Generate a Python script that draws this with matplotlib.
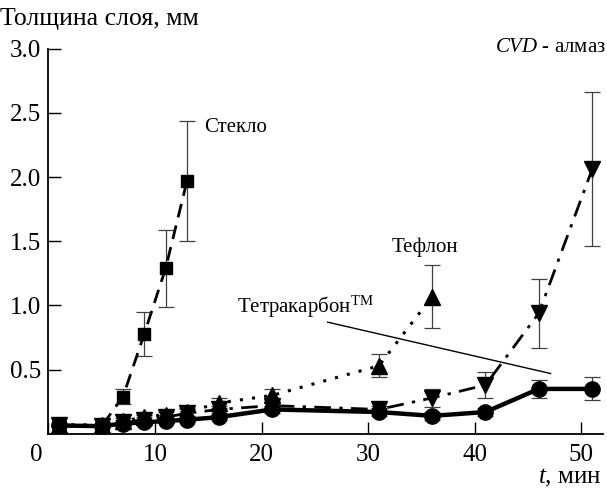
import matplotlib
matplotlib.use('Agg')
import matplotlib.pyplot as plt
import matplotlib.transforms as mtransforms

plt.rcParams['font.family'] = ['Liberation Serif', 'DejaVu Serif']
plt.rcParams['mathtext.fontset'] = 'custom'
plt.rcParams['mathtext.rm'] = 'Liberation Serif'
plt.rcParams['mathtext.it'] = 'Liberation Serif:italic'

# time, min
t_glass = [1, 5, 7, 9, 11, 13]
t_all = [1, 5, 7, 9, 11, 13, 16, 21, 31, 36, 41, 46, 51]
t_teflon = [1, 5, 7, 9, 11, 13, 16, 21, 31, 36]

# layer thickness, mm
glass = [0.065, 0.06, 0.29, 0.78, 1.29, 1.97]
glass_err = [0.0, 0.0, 0.06, 0.17, 0.30, 0.47]

teflon = [0.07, 0.07, 0.10, 0.13, 0.15, 0.17, 0.24, 0.30, 0.53, 1.07]
teflon_err = [0.0, 0.0, 0.02, 0.02, 0.02, 0.03, 0.04, 0.05, 0.09, 0.245]

cvd = [0.065, 0.06, 0.09, 0.11, 0.13, 0.16, 0.19, 0.22, 0.19, 0.28, 0.38, 0.94, 2.06]
cvd_err = [0.0, 0.0, 0.02, 0.02, 0.02, 0.03, 0.03, 0.04, 0.03, 0.07, 0.10, 0.27, 0.60]

tetra = [0.065, 0.06, 0.08, 0.09, 0.10, 0.11, 0.13, 0.19, 0.17, 0.14, 0.17, 0.35, 0.35]
tetra_err = [0.0, 0.0, 0.01, 0.01, 0.01, 0.02, 0.02, 0.03, 0.03, 0.03, 0.03, 0.07, 0.09]

fig = plt.figure(figsize=(6.07, 4.88), dpi=100)
ax = fig.add_axes([0.0797, 0.111, 0.9133, 0.789])

err_kw = dict(ecolor='0.25', elinewidth=0.9, capsize=6, capthick=0.9)

ax.errorbar(t_glass, glass, yerr=glass_err, color='black', lw=2,
            ls=(0, (5, 3)), marker='s', ms=9, **err_kw)
ax.errorbar(t_teflon, teflon, yerr=teflon_err, color='black', lw=2.2,
            ls=(0, (1, 3)), marker='^', ms=11, **err_kw)
ax.errorbar(t_all, cvd, yerr=cvd_err, color='black', lw=2,
            ls=(0, (6, 3, 1.2, 3)), marker='v', ms=11, **err_kw)
ax.errorbar(t_all, tetra, yerr=tetra_err, color='black', lw=3.2,
            ls='-', marker='o', ms=11, zorder=5, **err_kw)

ax.set_xlim(0, 52)
ax.set_ylim(0, 3.0)
ax.set_xticks([0, 10, 20, 30, 40, 50])
ax.set_yticks([0.5, 1.0, 1.5, 2.0, 2.5, 3.0])
ax.set_yticklabels(['0.5', '1.0', '1.5', '2.0', '2.5', '3.0'])
ax.tick_params(direction='in', length=9, width=1, labelsize=18, pad=7)
ax.tick_params(axis='y', pad=5)
for side in ['top', 'right']:
    ax.spines[side].set_visible(False)
for side in ['left', 'bottom']:
    ax.spines[side].set_linewidth(1.3)

# nudge the "0" label left, away from the corner
zero = ax.get_xticklabels()[0]
zero.set_transform(zero.get_transform() +
                   mtransforms.ScaledTranslation(-0.12, 0, fig.dpi_scale_trans))

ax.text(14.6, 2.39, 'Стекло', fontsize=15, va='center')
ax.text(32.2, 1.45, 'Тефлон', fontsize=15, va='center')
ax.text(17.7, 0.99, r'Тетракарбон$^{\mathrm{TM}}$', fontsize=15, va='center')
ax.text(41.9, 3.01, r'$\mathit{CVD}$ - алмаз', fontsize=15, va='center')
ax.plot([26.2, 47.1], [0.87, 0.47], color='black', lw=1.0)

fig.text(0.0, 0.962, 'Толщина слоя, мм', fontsize=18.5, va='center')
fig.text(0.99, 0.02, r'$t$, мин', fontsize=18, ha='right', va='center')

fig.savefig('out.png', dpi=100)
